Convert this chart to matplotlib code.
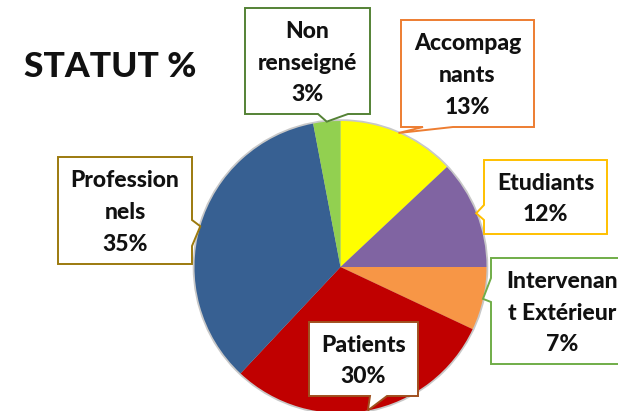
import matplotlib
matplotlib.use("Agg")
import numpy as np
import matplotlib.pyplot as plt
from matplotlib.patches import Polygon, Circle

# slices, clockwise from 12 o'clock
categories = ["Accompag\nnants", "Etudiants", "Intervenan\nt Extérieur",
              "Patients", "Profession\nnels", "Non\nrenseigné"]
percents = [13, 12, 7, 30, 35, 3]
slice_colors = ["#FFFF00", "#8064A2", "#F79646", "#C00000", "#376092", "#92D050"]

# callout boxes in pixel coords: x0, y0, x1, y1, pointer side, pointer base start/end, border colour
boxes = [
    (401, 20, 534, 127, "bottom", 423, 453, "#ED7D31"),
    (484, 160, 607, 234, "left", 205, 220, "#FFC000"),
    (491, 258, 633, 364, "left", 278, 302, "#70AD47"),
    (309, 322, 418, 396, "bottom", 370, 387, "#A0501E"),
    (58, 157, 192, 264, "right", 220, 246, "#9C7A0E"),
    (245, 8, 370, 114, "bottom", 318, 348, "#548235"),
]

W, H = 618, 411
CX, CY, R = 340.5, 267, 146

plt.rcParams["font.family"] = ["Lato", "DejaVu Sans"]

fig = plt.figure(figsize=(W / 100, H / 100), dpi=100)
ax = fig.add_axes([0, 0, 1, 1])

# faint shadow round the pie
ax.add_patch(Circle((CX, CY), R + 1.8, facecolor="#c8c8c8", edgecolor="none", zorder=0))
wedges, _ = ax.pie(percents, colors=slice_colors, startangle=-90, counterclock=True,
                   center=(CX, CY), radius=R, wedgeprops=dict(linewidth=0))
ax.set_xlim(0, W)
ax.set_ylim(H, 0)
ax.set_aspect("equal")
ax.axis("off")

for w, name, pct, box in zip(wedges, categories, percents, boxes):
    x0, y0, x1, y1, side, b0, b1, ec = box
    mid = np.deg2rad((w.theta1 + w.theta2) / 2)
    tip = (w.center[0] + w.r * np.cos(mid), w.center[1] + w.r * np.sin(mid))
    if side == "bottom":
        pts = [(x0, y0), (x1, y0), (x1, y1), (b1, y1), tip, (b0, y1), (x0, y1)]
    elif side == "left":
        pts = [(x0, y0), (x1, y0), (x1, y1), (x0, y1), (x0, b1), tip, (x0, b0)]
    else:
        pts = [(x0, y0), (x1, y0), (x1, b0), tip, (x1, b1), (x1, y1), (x0, y1)]
    ax.add_patch(Polygon(pts, closed=True, facecolor="white", edgecolor=ec,
                         linewidth=1.4, joinstyle="miter", zorder=3))
    ax.text((x0 + x1) / 2, (y0 + y1) / 2 + 2, f"{name}\n{pct}%", ha="center", va="center",
            multialignment="center", fontsize=16.5, fontweight="black", linespacing=1.62,
            color="#111111", zorder=4)

ax.text(24, 77, "STATUT %", fontsize=25.5, fontweight="black", color="#111111",
        ha="left", va="baseline")

fig.savefig("out.png", dpi=100)
